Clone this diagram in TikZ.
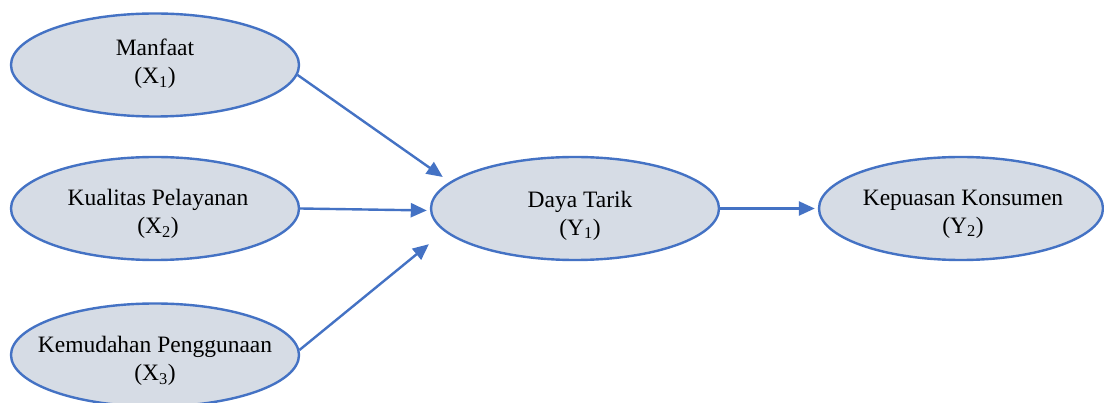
\documentclass[tikz,border=0pt]{standalone}
\usepackage{fontspec}
\setmainfont{Liberation Serif}
\usetikzlibrary{shapes.geometric,arrows.meta}
\definecolor{edgeblue}{HTML}{4472C4}
\definecolor{varfill}{HTML}{D6DCE5}
\begin{document}
\begin{tikzpicture}[x=1pt,y=1pt,
  varshape/.style={ellipse, draw=edgeblue, fill=varfill, line width=2.4pt,
    minimum width=288pt, minimum height=103pt, inner sep=0pt},
  varlabel/.style={align=center, inner sep=0pt,
    font=\fontsize{23.5}{28}\selectfont},
  path/.style={draw=edgeblue, line width=2.4pt,
    -{Triangle[length=16pt,width=14pt]}}]
\clip (0,0) rectangle (1104,-403);
\fill[white] (0,0) rectangle (1104,-403);

% latent variables
\node[varshape] (x1) at (155,-65) {};
\node[varshape] (x2) at (155,-208.5) {};
\node[varshape] (x3) at (155,-355) {};
\node[varshape] (y1) at (575,-208.5) {};
\node[varshape, minimum width=284pt] (y2) at (961,-208.5) {};

% variable names
\node[varlabel] (t1) at ([yshift=1pt]x1) {Manfaat\\(X\textsubscript{1})};
\node[varlabel] (t2) at ([xshift=3pt,yshift=-5.5pt]x2) {Kualitas Pelayanan\\(X\textsubscript{2})};
\node[varlabel] (t3) at ([yshift=-6pt]x3) {Kemudahan Penggunaan\\(X\textsubscript{3})};
\node[varlabel] (t4) at ([xshift=5pt,yshift=-7pt]y1) {Daya Tarik\\(Y\textsubscript{1})};
\node[varlabel] (t5) at ([xshift=2pt,yshift=-5.5pt]y2) {Kepuasan Konsumen\\(Y\textsubscript{2})};

% structural paths
\draw[path, shorten >=8.5pt] (x1.-4) -- (y1.168.5);
\draw[path, shorten >=3pt] (x2.east) -- ([yshift=-2pt]y1.west);
\draw[path, shorten >=20pt] (x3.2) -- (y1.190.1);
\draw[path, shorten >=3pt] (y1.east) -- (y2.west);
\end{tikzpicture}
\end{document}
